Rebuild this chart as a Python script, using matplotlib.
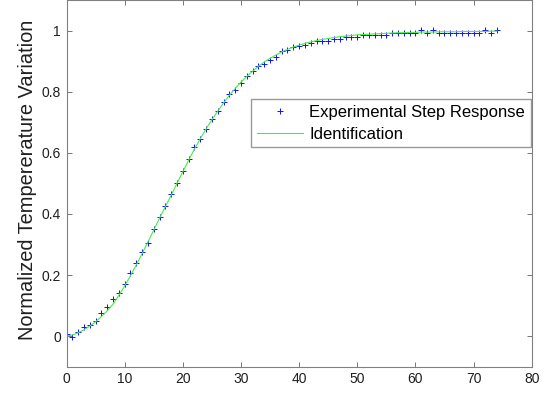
import matplotlib
matplotlib.use('Agg')
import matplotlib.pyplot as plt
import numpy as np
from matplotlib.ticker import FormatStrFormatter

# experimental step response (sampled every time unit)
time = np.arange(0, 75)
measured = [0.007, -0.002, 0.014, 0.030, 0.035, 0.051, 0.076, 0.096, 0.120, 0.140,
            0.169, 0.208, 0.238, 0.275, 0.305, 0.352, 0.391, 0.426, 0.464, 0.502,
            0.541, 0.579, 0.618, 0.646, 0.677, 0.709, 0.736, 0.766, 0.791, 0.805,
            0.830, 0.852, 0.867, 0.884, 0.891, 0.904, 0.912, 0.934, 0.936, 0.945,
            0.949, 0.953, 0.958, 0.965, 0.965, 0.965, 0.971, 0.971, 0.980, 0.978,
            0.978, 0.987, 0.987, 0.987, 0.987, 0.987, 0.991, 0.993, 0.993, 0.993,
            0.993, 1.002, 0.993, 1.002, 0.993, 0.993, 0.993, 0.993, 0.993, 0.993,
            0.993, 0.993, 1.002, 0.993, 1.002]

# identified model output
model = [0.000, 0.004, 0.011, 0.021, 0.033, 0.047, 0.064, 0.083, 0.105, 0.133,
         0.164, 0.198, 0.233, 0.270, 0.308, 0.347, 0.386, 0.424, 0.461, 0.500,
         0.538, 0.576, 0.612, 0.646, 0.678, 0.708, 0.736, 0.763, 0.788, 0.810,
         0.831, 0.850, 0.867, 0.883, 0.897, 0.909, 0.920, 0.930, 0.938, 0.946,
         0.952, 0.958, 0.963, 0.967, 0.971, 0.974, 0.977, 0.980, 0.982, 0.984,
         0.986, 0.987, 0.988, 0.989, 0.990, 0.991, 0.992, 0.993, 0.993, 0.994,
         0.994, 0.995, 0.995, 0.995, 0.996, 0.996, 0.996, 0.996, 0.997, 0.997,
         0.997, 0.997, 0.997, 0.998, 0.998]

plt.rcParams['font.family'] = ['Liberation Sans', 'DejaVu Sans']

fig = plt.figure(figsize=(5.51, 3.94), dpi=100)
ax = fig.add_axes([0.1207, 0.0693, 0.8443, 0.9307])

ax.plot(time, measured, '+', color='#1010ff', markersize=5, markeredgewidth=0.7,
        label='Experimental Step Response')
ax.plot(time, model, '-', color='#44ee44', linewidth=0.8, label='Identification')

ax.set_xlim(0, 80)
ax.set_ylim(-0.1, 1.1)
ax.set_xticks(np.arange(0, 81, 10))
ax.set_yticks(np.arange(0, 1.01, 0.2))
ax.yaxis.set_major_formatter(FormatStrFormatter('%g'))
ax.tick_params(direction='in', length=3.6, width=0.6, color='#606060',
               labelsize=10, labelcolor='#202020', top=True, right=True, pad=4)
for s in ax.spines.values():
    s.set_color('#808080')
    s.set_linewidth(0.8)

ax.set_ylabel('Normalized Tempererature Variation', fontsize=14.4, color='#202020')
ax.yaxis.set_label_coords(-0.063, 0.51)

ax.legend(loc='upper right', bbox_to_anchor=(0.998, 0.73), fontsize=12, frameon=True,
          fancybox=False, edgecolor='#808080', borderpad=0.35, handlelength=2.8,
          labelspacing=0.4, handletextpad=0.35, borderaxespad=0)

fig.savefig('out.png', dpi=100)
